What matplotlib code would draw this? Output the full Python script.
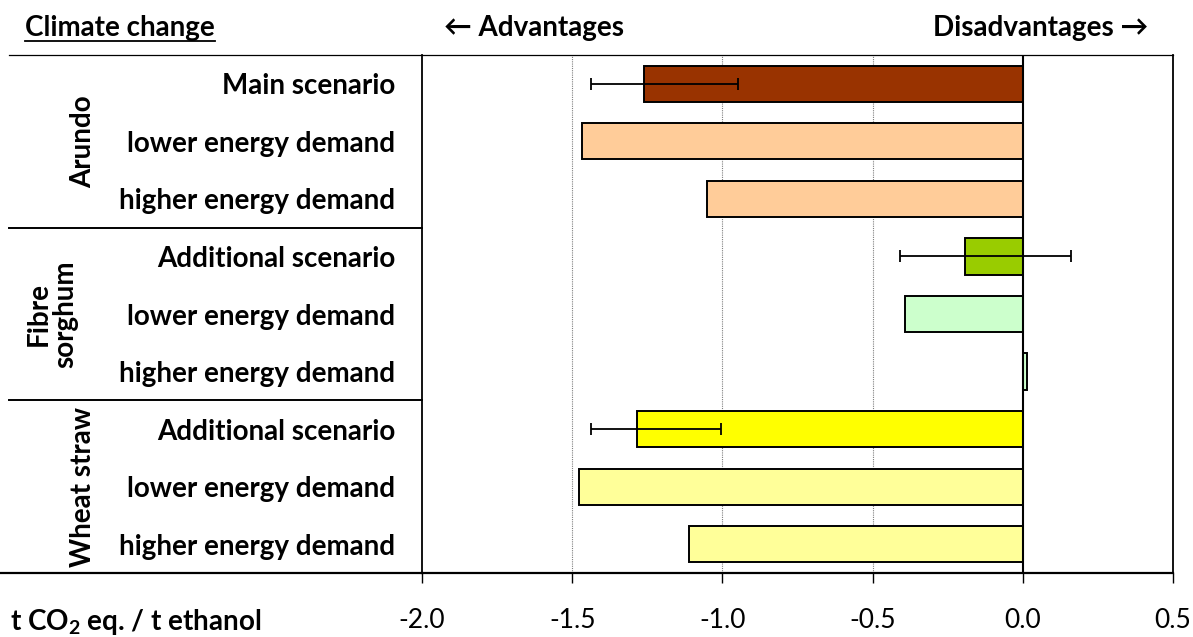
import matplotlib
matplotlib.use("Agg")
import matplotlib.pyplot as plt
import matplotlib.transforms as mtransforms
import numpy as np

# ---- data ----
groups = ["Arundo", "Fibre\nsorghum", "Wheat straw"]
scenarios = ["Main scenario", "lower energy demand", "higher energy demand",
             "Additional scenario", "lower energy demand", "higher energy demand",
             "Additional scenario", "lower energy demand", "higher energy demand"]
values = [-1.26, -1.466, -1.05,
          -0.191, -0.392, 0.013,
          -1.284, -1.478, -1.111]
err_low = [-1.437, None, None, -0.41, None, None, -1.439, None, None]
err_high = [-0.947, None, None, 0.162, None, None, -1.004, None, None]
colors = ["#993300", "#FFCC99", "#FFCC99",
          "#99CC00", "#CCFFCC", "#CCFFCC",
          "#FFFF00", "#FFFF99", "#FFFF99"]
xticks = [-2.0, -1.5, -1.0, -0.5, 0.0, 0.5]

FONT = ["Lato", "DejaVu Sans"]
plt.rcParams["font.family"] = FONT
plt.rcParams["mathtext.fontset"] = "custom"
plt.rcParams["mathtext.rm"] = "Lato"
plt.rcParams["mathtext.bf"] = "Lato:bold"

FS = 20
W, H = 1193, 637
fig = plt.figure(figsize=(W / 100, H / 100), dpi=100)
L, R, T, B = 422, 1173, 55, 573
ax = fig.add_axes([L / W, 1 - B / H, (R - L) / W, (B - T) / H])

y = np.arange(len(values))
ax.barh(y, values, height=0.63, color=colors, edgecolor="black", linewidth=1.4, zorder=3)

# asymmetric uncertainty ranges
for yi, v, lo, hi in zip(y, values, err_low, err_high):
    if lo is None:
        continue
    ax.errorbar(v, yi, xerr=[[v - lo], [hi - v]], fmt="none", ecolor="black",
                elinewidth=1.3, capsize=4, capthick=1.3, zorder=4)

ax.set_xlim(-2.0, 0.5)
ax.set_ylim(len(values) - 0.5, -0.5)
ax.set_xticks(xticks)
ax.set_xticklabels([f"{t:.1f}" for t in xticks], fontsize=19)
ax.tick_params(axis="x", direction="out", length=7, width=1.0, pad=18, colors="black")
ax.set_yticks(y)
ax.set_yticklabels(scenarios, fontsize=FS, fontweight="bold")
ax.tick_params(axis="y", length=0, pad=19)

# grid and zero line
for gx in [-1.5, -1.0, -0.5]:
    ax.axvline(gx, color="#7f7f7f", linestyle=(0, (1, 1)), linewidth=0.8, zorder=1)
ax.axvline(0.0, color="black", linewidth=1.5, zorder=5)

for side in ["left", "right"]:
    ax.spines[side].set_linewidth(1.3)
ax.spines["bottom"].set_linewidth(1.6)
ax.spines["top"].set_linewidth(0.9)

# frame lines extending into the label area
blend = mtransforms.blended_transform_factory(fig.transFigure, ax.transData)
ax.plot([9 / W, L / W], [-0.5, -0.5], transform=blend, color="black", lw=0.9, clip_on=False)
ax.plot([0 / W, L / W], [8.5, 8.5], transform=blend, color="black", lw=1.6, clip_on=False)
for sep in [2.5, 5.5]:
    ax.plot([9 / W, L / W], [sep, sep], transform=blend, color="black", lw=1.4, clip_on=False)

# group labels
gx_pos = [83, 52, 83]
for gi, (g, gx) in enumerate(zip(groups, gx_pos)):
    yc = gi * 3 + 1
    ax.text(gx / W, yc, g, transform=blend, rotation=90, ha="center", va="center",
            fontsize=FS, fontweight="bold", linespacing=1.05)

# header texts
t_title = fig.text(25 / W, 1 - 28 / H, "Climate change", ha="left", va="center",
                   fontsize=FS, fontweight="bold")
fig.text(444 / W, 1 - 28 / H, "\u2190 Advantages", ha="left", va="center",
         fontsize=FS, fontweight="bold")
fig.text(1148 / W, 1 - 28 / H, "Disadvantages \u2192", ha="right", va="center",
         fontsize=FS, fontweight="bold")

fig.text(10 / W, 1 - 622 / H, r"t CO$_{\mathbf{2}}$ eq. / t ethanol", ha="left", va="center",
         fontsize=FS, fontweight="bold")

# underline for the title
fig.canvas.draw()
bb = t_title.get_window_extent(renderer=fig.canvas.get_renderer())
uy = 1 - 41 / H
fig.add_artist(plt.Line2D([bb.x0 / W, bb.x1 / W], [uy, uy], color="black", lw=1.3,
                          transform=fig.transFigure))

fig.savefig("out.png", dpi=100)
